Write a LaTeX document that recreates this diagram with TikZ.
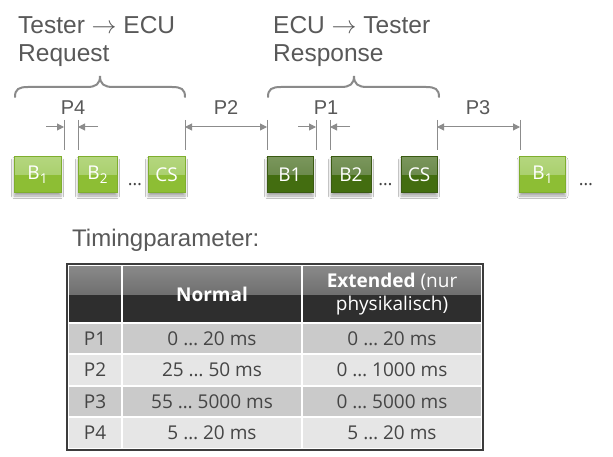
\documentclass[tikz,border=0pt]{standalone}
\usepackage{fontspec}
\setmainfont{Liberation Sans}
\newfontfamily\segoe{Open Sans}
\usetikzlibrary{arrows.meta,shadows.blur}
\definecolor{txtgray}{HTML}{595959}
\definecolor{dimgray}{HTML}{8C8C8C}
\definecolor{bracegray}{HTML}{8A8A8A}
\definecolor{lgBorder}{HTML}{7FAE2E}
\definecolor{lgTop}{HTML}{B4D67E}
\definecolor{lgMid}{HTML}{A0CA5E}
\definecolor{lgBot}{HTML}{8DBE34}
\definecolor{dgBorder}{HTML}{3A5A12}
\definecolor{dgTop}{HTML}{7A965C}
\definecolor{dgMid}{HTML}{5E7E3C}
\definecolor{dgBot}{HTML}{436D10}
\definecolor{hdTop}{HTML}{8A8A8A}
\definecolor{hdMid}{HTML}{555555}
\definecolor{hdBot}{HTML}{2E2E2E}
\definecolor{rowDark}{HTML}{CACACA}
\definecolor{rowLight}{HTML}{E6E6E6}
\definecolor{tbltext}{HTML}{454545}
\definecolor{tblborder}{HTML}{3C3C3C}
\newcommand\subnum[1]{\raisebox{-0.22em}{\fontsize{13.5}{13.5}\selectfont #1}}
\tikzset{
  blk/.style={rectangle, minimum height=36pt, inner sep=0pt, line width=1pt,
    text=white, font=\segoe\fontsize{19}{19}\selectfont,
    blur shadow={shadow xshift=0pt, shadow yshift=-3pt, shadow blur radius=2.5pt, shadow opacity=35}},
  lgbox/.style={blk, draw=lgBorder, fill=lgBot,
    path picture={\fill[top color=lgTop, bottom color=lgMid]
      (path picture bounding box.north west) rectangle (path picture bounding box.east);}},
  dgbox/.style={blk, draw=dgBorder, fill=dgBot,
    path picture={\fill[top color=dgTop, bottom color=dgMid]
      (path picture bounding box.north west) rectangle (path picture bounding box.east);}},
  dotstxt/.style={anchor=base, inner sep=0pt, text=tbltext, font=\segoe\fontsize{18}{18}\selectfont},
  title/.style={anchor=base west, inner sep=0pt, text=txtgray, font=\fontsize{24.5}{24.5}\selectfont},
  plabel/.style={anchor=base, inner sep=0pt, text=txtgray, font=\fontsize{20}{20}\selectfont},
  dimline/.style={draw=dimgray, line width=1pt},
  dimarrow/.style={draw=dimgray, line width=1pt, arrows={-Triangle[length=7pt,width=7pt]}},
  dimboth/.style={draw=dimgray, line width=1pt, arrows={Triangle[length=7pt,width=7pt]-Triangle[length=7pt,width=7pt]}},
  bracepath/.style={draw=bracegray, line width=2pt, line cap=round},
  cell/.style={rectangle, inner sep=0pt, draw=white, line width=2pt, text=tbltext,
    font=\segoe\fontsize{19}{19}\selectfont},
  hdcell/.style={rectangle, inner sep=0pt, draw=white, line width=2pt, fill=hdBot, text=white,
    align=center, font=\segoe\fontsize{19}{23}\selectfont,
    path picture={\fill[top color=hdTop, bottom color=hdMid]
      (path picture bounding box.north west) rectangle (path picture bounding box.east);}},
}
\begin{document}
\begin{tikzpicture}[x=1pt,y=-1pt]
\useasboundingbox[fill=white] (0,0) rectangle (613,457);

% titles
\node[title] (t1a) at (18,33.5) {Tester $\rightarrow$ ECU};
\node[title] (t1b) at (18,62) {Request};
\node[title] (t2a) at (273,33.5) {ECU $\rightarrow$ Tester};
\node[title] (t2b) at (273,62) {Response};

% braces
\draw[bracepath] (15,97) .. controls (15,89) and (19,87) .. (28,87) -- (87,87)
  .. controls (96,87) and (100,84) .. (100,76)
  .. controls (100,84) and (104,87) .. (113,87) -- (172,87)
  .. controls (181,87) and (185,89) .. (185,97);
\draw[bracepath] (268,97) .. controls (268,89) and (272,87) .. (281,87) -- (341,87)
  .. controls (350,87) and (354,84) .. (354,76)
  .. controls (354,84) and (358,87) .. (367,87) -- (426,87)
  .. controls (435,87) and (439,89) .. (439,97);

% labels
\node[plabel] (p4) at (73,115) {P4};
\node[plabel] (p2) at (226,115) {P2};
\node[plabel] (p1) at (326,115) {P1};
\node[plabel] (p3) at (478,115) {P3};

% vertical dimension lines
\foreach \n/\x in {a/64,b/78,c/185,d/267,e/316,f/330,g/437,h/520}{
  \coordinate (\n t) at (\x,120);
  \coordinate (\n b) at (\x,150);
  \coordinate (\n m) at (\x,127);
  \draw[dimline] (\n t) -- (\n b);
}
\coordinate (a0) at (46,127);
\coordinate (b0) at (98,127);
\coordinate (e0) at (298,127);
\coordinate (f0) at (350,127);
\draw[dimarrow] (a0) -- (am);
\draw[dimarrow] (b0) -- (bm);
\draw[dimarrow] (e0) -- (em);
\draw[dimarrow] (f0) -- (fm);
\draw[dimboth] (cm) -- (dm);
\draw[dimboth] (gm) -- (hm);

% byte boxes
\node[lgbox, minimum width=47pt] (q1) at (37.5,175) {B\subnum{1}};
\node[lgbox, minimum width=39pt] (q2) at (97.5,175) {B\subnum{2}};
\node[dotstxt] (qd) at (135,186) {…};
\node[lgbox, minimum width=37pt] (qcs) at (166.5,175) {CS};

\node[dgbox, minimum width=46pt] (r1) at (290,175) {B1};
\node[dgbox, minimum width=40pt] (r2) at (351,175) {B2};
\node[dotstxt] (rd) at (385.5,186) {…};
\node[dgbox, minimum width=36pt] (rcs) at (419,175) {CS};

\node[lgbox, minimum width=46pt] (n1) at (542.5,175) {B\subnum{1}};
\node[dotstxt] (nd) at (586,186) {…};

% table caption
\node[title, font=\fontsize{24}{24}\selectfont] (cap) at (72,247) {Timingparameter:};

% table
\node[hdcell, minimum width=54pt, minimum height=58pt] (h0) at (95,294) {};
\node[hdcell, minimum width=180pt, minimum height=58pt] (h1) at (212,294) {\bfseries Normal};
\node[hdcell, minimum width=180pt, minimum height=58pt] (h2) at (392,294) {\textbf{Extended} (nur\\physikalisch)};

\foreach \r/\y/\h/\c/\a/\b/\e in {
  1/338.5/31/rowDark/P1/0 … 20 ms/0 … 20 ms,
  2/370/32/rowLight/P2/25 … 50 ms/0 … 1000 ms,
  3/401.5/31/rowDark/P3/55 … 5000 ms/0 … 5000 ms,
  4/433/32/rowLight/P4/5 … 20 ms/5 … 20 ms}{
  \node[cell, fill=\c, minimum width=54pt, minimum height=\h pt] (c\r a) at (95,\y) {\a};
  \node[cell, fill=\c, minimum width=180pt, minimum height=\h pt] (c\r b) at (212,\y) {\b};
  \node[cell, fill=\c, minimum width=180pt, minimum height=\h pt] (c\r c) at (392,\y) {\e};
}
\draw[draw=tblborder, line width=2pt] (h0.north west) rectangle (c4c.south east);
\end{tikzpicture}
\end{document}
